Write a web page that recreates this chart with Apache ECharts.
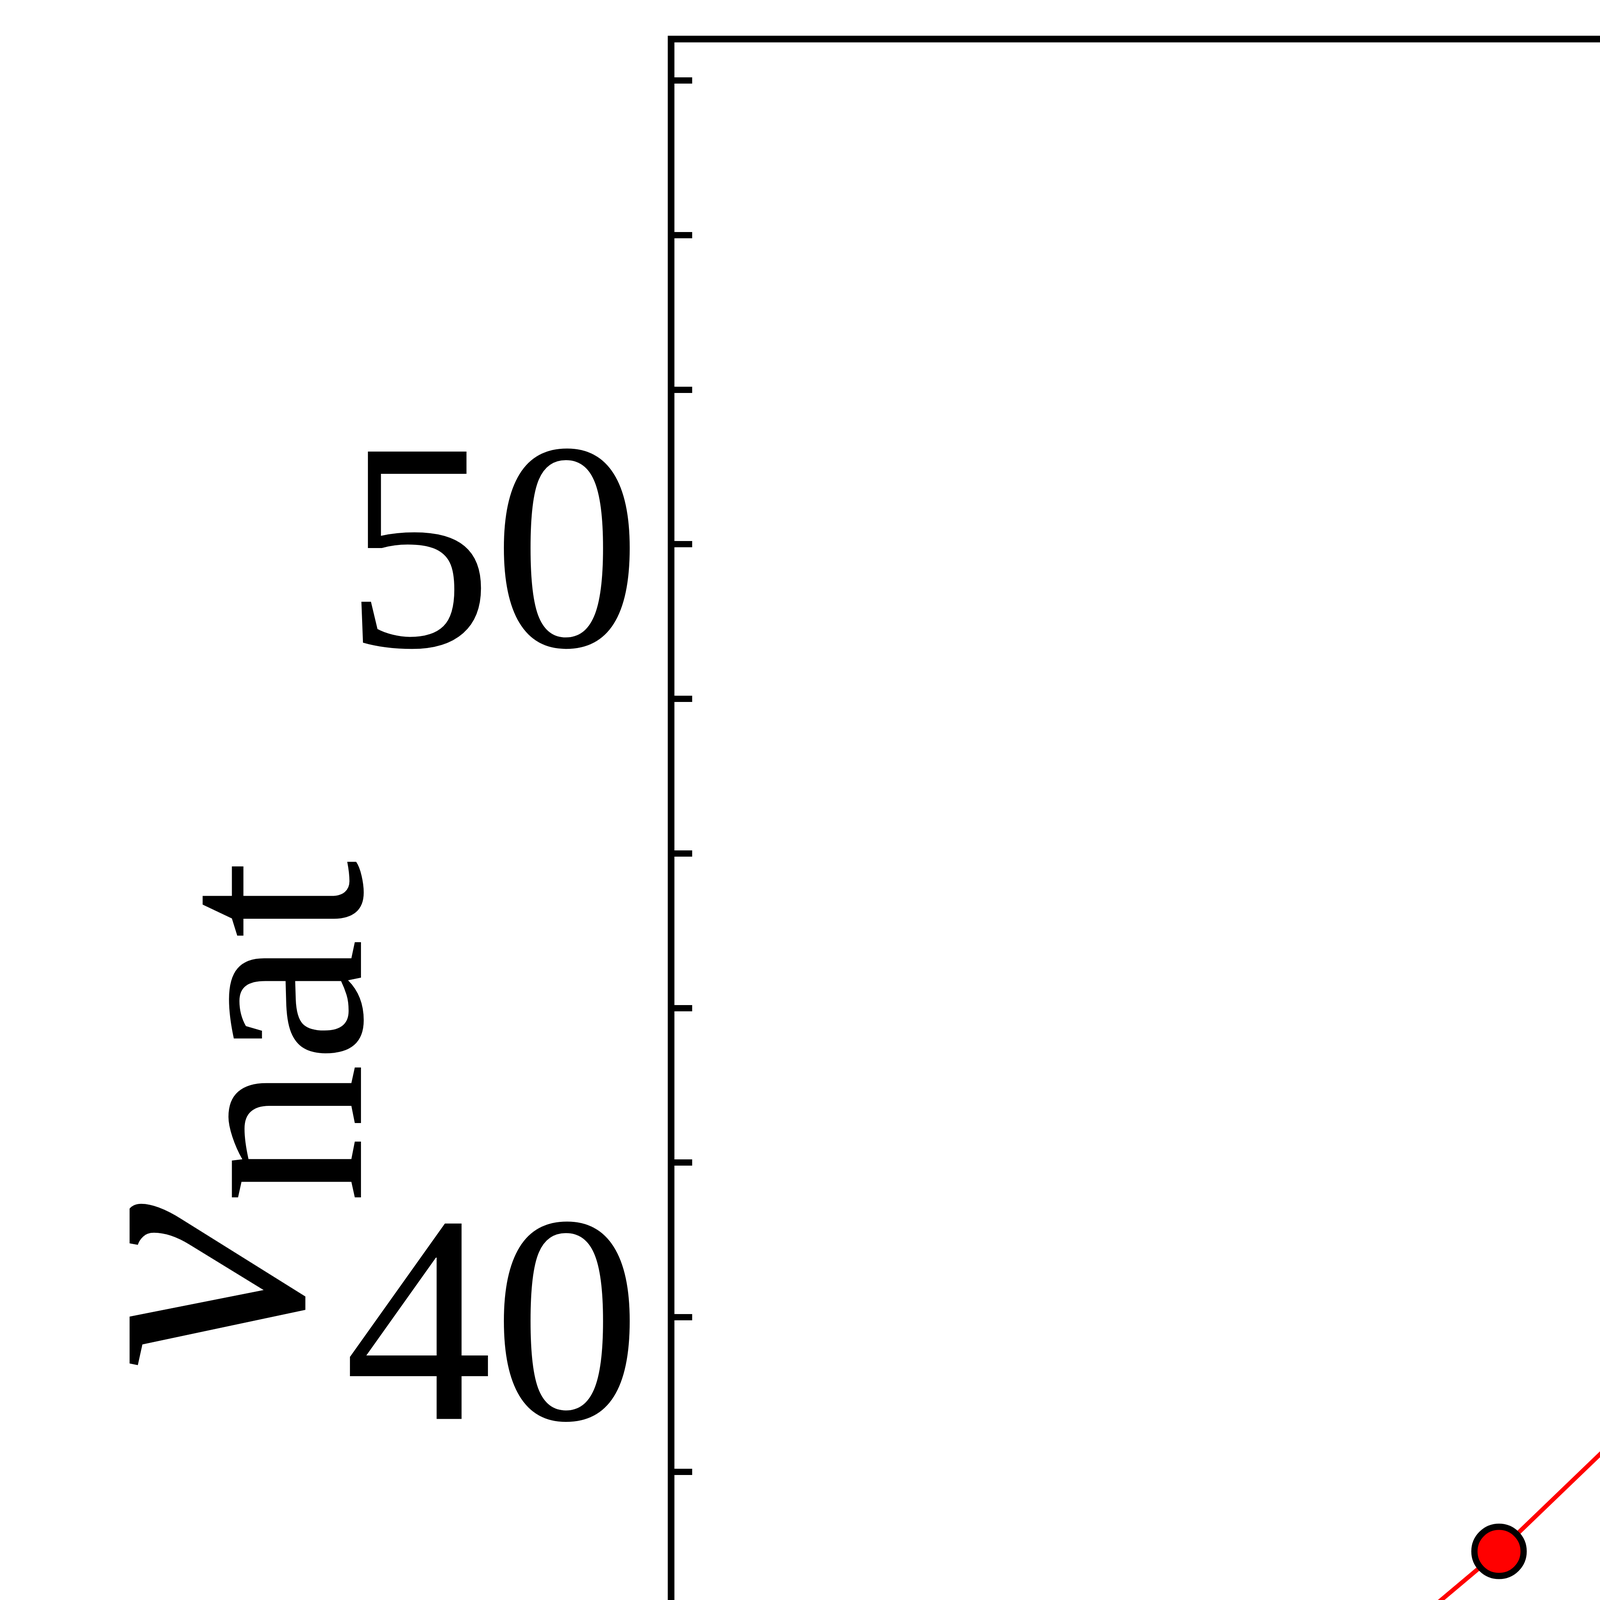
<!DOCTYPE html>
<html>
<head>
<meta charset="utf-8">
<script src="https://cdn.jsdelivr.net/npm/echarts@6/dist/echarts.min.js"></script>
<style>
  html, body { margin: 0; padding: 0; background: #fff; }
  #chart { width: 7900px; height: 5875px; }
</style>
</head>
<body>
<div id="chart"></div>
<script>
// data
var xValues = [1, 2, 4, 6, 8, 10]
var yValues = [30.39, 31.75, 36.97, 42.94, 48.91, 55.29]

// ticks and labels
var yTickValues = [30, 32, 34, 36, 38, 40, 42, 44, 46, 48, 50, 52, 54, 56]
var yLabelValues = [30, 40, 50]
var xMinorTicks = [1, 2, 3, 4, 5, 6, 7, 8, 9, 10]
var xMajorTicks = [5, 10]

var points = []
xValues.forEach(function (x, i) {
    points.push([x, yValues[i]])
})

var chart = echarts.init(document.getElementById('chart'))

var xBase = {
    type: 'value',
    min: 0.55,
    max: 10.45,
    position: 'bottom',
    axisLine: { show: false },
    axisLabel: { show: false },
    splitLine: { show: false }
}

chart.setOption({
    animation: false,
    backgroundColor: '#fff',
    grid: {
        left: 1718,
        right: 100,
        top: 100,
        bottom: 355,
        containLabel: false,
        outerBoundsMode: 'none',
        show: true,
        borderColor: '#000',
        borderWidth: 17,
        backgroundColor: 'transparent'
    },
    xAxis: [
        Object.assign({}, xBase, {
            axisTick: {
                inside: true,
                length: 30,
                customValues: xMinorTicks,
                lineStyle: { color: '#000', width: 16 }
            }
        }),
        Object.assign({}, xBase, {
            axisTick: {
                inside: true,
                length: 54,
                customValues: xMajorTicks,
                lineStyle: { color: '#000', width: 16 }
            }
        })
    ],
    yAxis: {
        type: 'value',
        min: 29.145,
        max: 56.535,
        axisLine: { show: false },
        splitLine: { show: false },
        axisTick: {
            inside: true,
            length: 54,
            customValues: yTickValues,
            lineStyle: { color: '#000', width: 16 }
        },
        axisLabel: {
            customValues: yLabelValues,
            margin: 77,
            verticalAlign: 'top',
            lineHeight: 122,
            fontFamily: 'Liberation Serif',
            fontSize: 760,
            color: '#000'
        },
        name: '{nu|ν}{sub|nat}',
        nameLocation: 'middle',
        nameRotate: 90,
        nameGap: 623,
        nameMoveOverlap: false,
        nameTextStyle: {
            color: '#000',
            padding: [0, 90, 0, 0],
            rich: {
                nu: {
                    fontFamily: 'Liberation Serif',
                    fontStyle: 'italic',
                    fontSize: 960,
                    lineHeight: 1150,
                    color: '#000'
                },
                sub: {
                    fontFamily: 'Liberation Serif',
                    fontSize: 720,
                    lineHeight: 720,
                    verticalAlign: 'bottom',
                    color: '#000'
                }
            }
        }
    },
    series: [
        {
            type: 'line',
            xAxisIndex: 0,
            data: points,
            symbol: 'circle',
            symbolSize: 126,
            lineStyle: { color: '#ff0000', width: 11 },
            itemStyle: {
                color: '#ff0000',
                borderColor: '#000',
                borderWidth: 16
            }
        }
    ]
})
</script>
</body>
</html>
